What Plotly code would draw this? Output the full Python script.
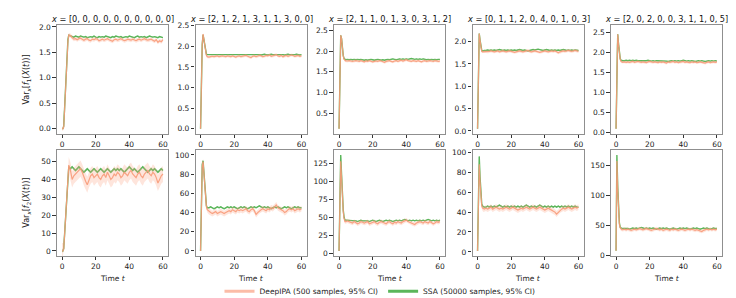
import plotly.graph_objects as go

# ---------------- data ----------------
T = [0, 0.5, 1, 1.5, 2, 2.5, 3, 3.5, 4] + list(range(5, 61))

TITLES = [
    "[0, 0, 0, 0, 0, 0, 0, 0, 0, 0]",
    "[2, 1, 2, 1, 3, 1, 1, 3, 0, 0]",
    "[2, 1, 1, 0, 1, 3, 0, 3, 1, 2]",
    "[0, 1, 1, 2, 0, 4, 0, 1, 0, 3]",
    "[2, 0, 2, 0, 0, 3, 1, 1, 0, 5]",
]

# f1 panels (top row)
DEEP_1 = [0.00, 0.00, 0.03, 0.40, 0.80, 1.15, 1.48, 1.72, 1.84,
          1.83, 1.79, 1.76, 1.77, 1.75, 1.77, 1.78, 1.76, 1.74, 1.76,
          1.77, 1.74, 1.73, 1.76, 1.75, 1.77, 1.76, 1.73, 1.75, 1.76,
          1.74, 1.75, 1.77, 1.75, 1.73, 1.72, 1.75, 1.76, 1.74, 1.75,
          1.77, 1.75, 1.73, 1.74, 1.76, 1.75, 1.74, 1.76, 1.75, 1.73,
          1.75, 1.76, 1.74, 1.76, 1.77, 1.75, 1.74, 1.75, 1.76, 1.74,
          1.72, 1.75, 1.70, 1.73, 1.71, 1.75]
SSA_1 = [0.00, 0.00, 0.05, 0.45, 0.85, 1.20, 1.52, 1.75, 1.84,
         1.83, 1.81, 1.80, 1.82, 1.81, 1.80, 1.82, 1.81, 1.80, 1.81,
         1.79, 1.80, 1.81, 1.80, 1.82, 1.80, 1.79, 1.81, 1.80, 1.81,
         1.80, 1.82, 1.81, 1.80, 1.79, 1.81, 1.80, 1.82, 1.81, 1.80,
         1.81, 1.79, 1.80, 1.81, 1.80, 1.82, 1.81, 1.80, 1.79, 1.81,
         1.82, 1.80, 1.81, 1.80, 1.81, 1.79, 1.80, 1.82, 1.81, 1.80,
         1.81, 1.80, 1.79, 1.81, 1.80, 1.79]

DEEP_2 = [0.00, 1.10, 2.05, 2.30, 2.18, 2.00, 1.86, 1.78, 1.75,
          1.74, 1.75, 1.76, 1.75, 1.76, 1.77, 1.75, 1.76, 1.77, 1.76,
          1.75, 1.77, 1.76, 1.75, 1.77, 1.76, 1.74, 1.76, 1.77, 1.75,
          1.76, 1.77, 1.78, 1.76, 1.75, 1.73, 1.76, 1.77, 1.75, 1.76,
          1.78, 1.77, 1.75, 1.76, 1.78, 1.77, 1.79, 1.76, 1.77, 1.78,
          1.80, 1.77, 1.76, 1.78, 1.75, 1.77, 1.78, 1.76, 1.77, 1.79,
          1.78, 1.76, 1.77, 1.78, 1.76, 1.77]
SSA_2 = [0.00, 1.15, 2.05, 2.28, 2.16, 1.98, 1.87, 1.81, 1.80,
         1.80, 1.81, 1.80, 1.81, 1.80, 1.81, 1.80, 1.81, 1.81, 1.80,
         1.81, 1.80, 1.81, 1.80, 1.81, 1.80, 1.81, 1.81, 1.80, 1.81,
         1.80, 1.81, 1.80, 1.80, 1.81, 1.80, 1.81, 1.80, 1.81, 1.80,
         1.80, 1.79, 1.80, 1.81, 1.80, 1.79, 1.80, 1.81, 1.80, 1.80,
         1.81, 1.80, 1.80, 1.81, 1.80, 1.79, 1.80, 1.81, 1.80, 1.80,
         1.79, 1.80, 1.81, 1.80, 1.79, 1.80]

DEEP_3 = [0.12, 1.60, 2.38, 2.30, 2.05, 1.88, 1.80, 1.77, 1.76,
          1.76, 1.77, 1.76, 1.75, 1.76, 1.77, 1.76, 1.75, 1.77, 1.76,
          1.74, 1.76, 1.75, 1.77, 1.76, 1.74, 1.75, 1.76, 1.75, 1.77,
          1.76, 1.75, 1.73, 1.75, 1.76, 1.77, 1.75, 1.74, 1.76, 1.77,
          1.75, 1.76, 1.78, 1.76, 1.77, 1.79, 1.77, 1.76, 1.75, 1.77,
          1.76, 1.75, 1.77, 1.76, 1.74, 1.76, 1.77, 1.75, 1.76, 1.77,
          1.76, 1.75, 1.77, 1.76, 1.75, 1.76]
SSA_3 = [0.12, 1.62, 2.38, 2.30, 2.05, 1.89, 1.82, 1.80, 1.79,
         1.80, 1.79, 1.80, 1.79, 1.80, 1.79, 1.80, 1.79, 1.80, 1.79,
         1.78, 1.79, 1.78, 1.79, 1.80, 1.79, 1.78, 1.79, 1.80, 1.79,
         1.78, 1.79, 1.78, 1.79, 1.80, 1.79, 1.80, 1.81, 1.80, 1.79,
         1.80, 1.81, 1.80, 1.81, 1.80, 1.81, 1.80, 1.81, 1.82, 1.81,
         1.80, 1.81, 1.80, 1.81, 1.80, 1.81, 1.80, 1.79, 1.80, 1.79,
         1.80, 1.79, 1.80, 1.79, 1.80, 1.80]

DEEP_4 = [0.05, 1.70, 2.18, 2.02, 1.85, 1.78, 1.77, 1.77, 1.78,
          1.78, 1.77, 1.78, 1.79, 1.78, 1.77, 1.78, 1.79, 1.77, 1.78,
          1.79, 1.78, 1.77, 1.78, 1.79, 1.78, 1.77, 1.76, 1.77, 1.78,
          1.79, 1.78, 1.77, 1.78, 1.79, 1.80, 1.78, 1.77, 1.78, 1.79,
          1.78, 1.77, 1.76, 1.77, 1.78, 1.79, 1.78, 1.77, 1.78, 1.79,
          1.78, 1.79, 1.77, 1.75, 1.77, 1.78, 1.79, 1.78, 1.79, 1.80,
          1.79, 1.78, 1.79, 1.80, 1.79, 1.78]
SSA_4 = [0.05, 1.72, 2.18, 2.03, 1.86, 1.80, 1.79, 1.80, 1.80,
         1.80, 1.81, 1.80, 1.81, 1.80, 1.81, 1.80, 1.81, 1.82, 1.81,
         1.80, 1.81, 1.80, 1.81, 1.80, 1.81, 1.80, 1.81, 1.80, 1.81,
         1.82, 1.81, 1.80, 1.81, 1.80, 1.79, 1.80, 1.81, 1.82, 1.81,
         1.82, 1.83, 1.82, 1.81, 1.80, 1.81, 1.82, 1.81, 1.80, 1.81,
         1.80, 1.81, 1.80, 1.81, 1.80, 1.81, 1.82, 1.81, 1.80, 1.81,
         1.80, 1.81, 1.80, 1.81, 1.80, 1.80]

DEEP_5 = [0.10, 2.20, 2.46, 2.20, 1.95, 1.83, 1.78, 1.77, 1.76,
          1.77, 1.76, 1.77, 1.76, 1.77, 1.78, 1.76, 1.77, 1.78, 1.77,
          1.76, 1.77, 1.76, 1.75, 1.77, 1.78, 1.77, 1.76, 1.77, 1.76,
          1.75, 1.77, 1.76, 1.77, 1.75, 1.74, 1.77, 1.76, 1.77, 1.78,
          1.76, 1.77, 1.75, 1.76, 1.77, 1.78, 1.76, 1.77, 1.76, 1.75,
          1.77, 1.76, 1.77, 1.75, 1.76, 1.77, 1.76, 1.75, 1.74, 1.76,
          1.77, 1.75, 1.76, 1.77, 1.76, 1.77]
SSA_5 = [0.10, 2.22, 2.46, 2.21, 1.97, 1.85, 1.81, 1.80, 1.80,
         1.80, 1.81, 1.80, 1.81, 1.80, 1.81, 1.80, 1.81, 1.80, 1.80,
         1.79, 1.80, 1.79, 1.80, 1.81, 1.80, 1.79, 1.80, 1.79, 1.80,
         1.80, 1.79, 1.80, 1.79, 1.80, 1.79, 1.78, 1.79, 1.80, 1.79,
         1.80, 1.79, 1.80, 1.79, 1.80, 1.81, 1.80, 1.79, 1.80, 1.79,
         1.80, 1.79, 1.78, 1.79, 1.80, 1.79, 1.80, 1.79, 1.78, 1.79,
         1.80, 1.79, 1.80, 1.79, 1.80, 1.79]

# f2 panels (bottom row)
DEEP_6 = [0, 0, 1, 9, 17, 25, 33, 41, 48,
          45, 40, 42, 43, 44, 45, 46, 44, 41, 39,
          37, 40, 42, 43, 41, 42, 43, 41, 40, 42,
          43, 41, 44, 42, 40, 41, 43, 42, 44, 43,
          41, 42, 44, 43, 42, 44, 45, 43, 42, 41,
          43, 44, 42, 41, 43, 44, 45, 43, 42, 44,
          43, 41, 38, 40, 42, 43]
SSA_6 = [0, 0, 1.5, 10, 18, 26, 34, 42, 47,
         46, 47, 46, 45, 46, 47, 46, 45, 44, 45,
         46, 45, 44, 45, 46, 45, 44, 45, 46, 45,
         44, 45, 46, 45, 44, 45, 46, 45, 46, 45,
         46, 45, 44, 45, 46, 47, 46, 45, 46, 45,
         44, 45, 46, 47, 46, 45, 44, 45, 46, 45,
         46, 45, 44, 45, 46, 45]

DEEP_7 = [0, 55, 88, 93, 80, 65, 52, 46, 43,
          41, 40, 39, 40, 41, 39, 40, 41, 40, 39,
          40, 41, 42, 41, 43, 42, 41, 43, 42, 43,
          42, 43, 44, 42, 41, 43, 44, 42, 38, 40,
          42, 43, 44, 43, 42, 44, 43, 45, 44, 46,
          48, 45, 44, 43, 42, 40, 41, 43, 44, 43,
          44, 42, 43, 44, 43, 44]
SSA_7 = [0, 58, 90, 94, 81, 66, 53, 47, 45,
         45, 46, 45, 44, 45, 46, 45, 46, 45, 44,
         45, 46, 45, 46, 45, 46, 45, 44, 45, 46,
         45, 46, 45, 44, 45, 46, 45, 46, 45, 46,
         47, 46, 45, 46, 45, 46, 45, 44, 45, 46,
         45, 46, 45, 44, 45, 46, 45, 46, 45, 44,
         45, 46, 45, 46, 45, 45]

DEEP_8 = [3, 95, 128, 105, 75, 58, 48, 44, 44,
          45, 44, 43, 42, 44, 43, 41, 42, 44, 43,
          42, 43, 44, 41, 42, 43, 44, 42, 41, 43,
          44, 43, 42, 41, 43, 44, 42, 41, 43, 42,
          44, 43, 42, 44, 45, 46, 44, 43, 42, 41,
          40, 42, 43, 44, 43, 42, 44, 43, 42, 44,
          43, 41, 42, 44, 43, 44]
SSA_8 = [3, 100, 137, 110, 78, 60, 50, 46, 46,
         46, 45, 46, 45, 46, 45, 44, 45, 46, 45,
         45, 46, 45, 44, 45, 46, 45, 44, 45, 46,
         45, 44, 45, 46, 45, 46, 45, 44, 45, 46,
         45, 46, 45, 46, 47, 46, 45, 46, 45, 46,
         45, 46, 45, 46, 45, 46, 45, 46, 47, 46,
         45, 46, 45, 46, 45, 46]

DEEP_9 = [1, 65, 88, 70, 52, 46, 44, 43, 43,
          44, 43, 44, 45, 43, 44, 45, 44, 43, 44,
          43, 44, 45, 44, 43, 44, 45, 44, 43, 42,
          43, 44, 43, 44, 45, 44, 43, 44, 45, 44,
          43, 44, 45, 44, 43, 42, 43, 44, 43, 42,
          41, 40, 38, 40, 42, 43, 44, 43, 44, 45,
          44, 43, 44, 45, 44, 45]
SSA_9 = [1, 70, 96, 75, 55, 48, 46, 45, 45,
         45, 46, 45, 46, 45, 46, 45, 46, 47, 46,
         45, 46, 45, 46, 45, 46, 45, 46, 45, 46,
         45, 46, 45, 46, 47, 46, 45, 46, 45, 46,
         45, 46, 47, 46, 45, 46, 45, 46, 45, 46,
         45, 46, 45, 46, 45, 46, 45, 46, 45, 46,
         45, 46, 45, 46, 45, 45]

DEEP_10 = [8, 158, 110, 70, 52, 46, 44, 43, 43,
           44, 43, 44, 43, 42, 43, 44, 43, 44, 45,
           44, 43, 44, 45, 44, 43, 42, 43, 44, 45,
           44, 43, 44, 42, 43, 44, 43, 42, 44, 43,
           44, 43, 42, 43, 44, 43, 42, 43, 44, 43,
           44, 43, 42, 43, 42, 41, 40, 42, 43, 44,
           43, 44, 43, 44, 43, 44]
SSA_10 = [8, 168, 115, 72, 54, 47, 45, 45, 45,
          45, 46, 45, 44, 45, 46, 45, 46, 45, 46,
          47, 46, 45, 46, 45, 46, 45, 46, 45, 44,
          45, 46, 45, 46, 45, 46, 45, 44, 45, 46,
          45, 44, 45, 46, 45, 46, 45, 46, 45, 44,
          45, 46, 45, 46, 45, 44, 45, 46, 45, 46,
          45, 44, 45, 46, 45, 45]

DEEP = [DEEP_1, DEEP_2, DEEP_3, DEEP_4, DEEP_5, DEEP_6, DEEP_7, DEEP_8, DEEP_9, DEEP_10]
SSA = [SSA_1, SSA_2, SSA_3, SSA_4, SSA_5, SSA_6, SSA_7, SSA_8, SSA_9, SSA_10]
# 95% CI half widths per panel
DEEP_CI = [0.04, 0.035, 0.035, 0.035, 0.035, 4.5, 3.0, 3.0, 3.0, 3.0]
SSA_CI = [0.01, 0.01, 0.01, 0.01, 0.01, 0.7, 0.7, 0.7, 0.7, 0.7]

Y_RANGES = [[-0.097, 2.03], [-0.12, 2.51], [0.005, 2.62], [-0.06, 2.36], [-0.02, 2.68],
            [-2.7, 56.7], [-5, 105.7], [-3.7, 144.5], [-3.9, 102.9], [-0.5, 177.2]]
Y_DTICK = [0.5, 0.5, 0.5, 0.5, 0.5, 10, 20, 25, 20, 50]

# ---------------- layout ----------------
W, H = 736, 298
LEFTS = [49, 187.5, 326, 464.5, 603]
PW = 111
ROWS = [(14, 126.7), (143.3, 254)]

DEEP_LINE = "#f99b79"
DEEP_BAND = "rgba(252,160,130,0.28)"
SSA_LINE = "#5ab65a"
SSA_BAND = "rgba(90,182,90,0.45)"
FONT = "DejaVu Sans"

fig = go.Figure()
annotations = []

for i in range(10):
    r, c = divmod(i, 5)
    n = "" if i == 0 else str(i + 1)
    xa, ya = "x" + n, "y" + n
    d, s = DEEP[i], SSA[i]
    assert len(d) == len(T) and len(s) == len(T), (i, len(d), len(s))
    dlo = [v - DEEP_CI[i] for v in d]
    dhi = [v + DEEP_CI[i] for v in d]
    slo = [v - SSA_CI[i] for v in s]
    shi = [v + SSA_CI[i] for v in s]
    # SSA band + line
    fig.add_trace(go.Scatter(x=T + T[::-1], y=shi + slo[::-1], fill="toself", fillcolor=SSA_BAND,
                             line=dict(width=0), hoverinfo="skip", showlegend=False, xaxis=xa, yaxis=ya))
    fig.add_trace(go.Scatter(x=T, y=s, mode="lines", line=dict(color=SSA_LINE, width=1.4),
                             showlegend=False, xaxis=xa, yaxis=ya))
    # DeepIPA band + line
    fig.add_trace(go.Scatter(x=T + T[::-1], y=dhi + dlo[::-1], fill="toself", fillcolor=DEEP_BAND,
                             line=dict(width=0), hoverinfo="skip", showlegend=False, xaxis=xa, yaxis=ya))
    fig.add_trace(go.Scatter(x=T, y=d, mode="lines", line=dict(color=DEEP_LINE, width=1.2),
                             opacity=0.9, showlegend=False, xaxis=xa, yaxis=ya))

    x0 = LEFTS[c] / W
    x1 = (LEFTS[c] + PW) / W
    top, bot = ROWS[r]
    y0 = 1 - bot / H
    y1 = 1 - top / H
    axis_common = dict(showline=True, mirror=True, linecolor="#8f8f8f", linewidth=1.3,
                       ticks="outside", ticklen=3.5, tickwidth=1, tickcolor="#333",
                       tickfont=dict(family=FONT, size=7.5, color="#222"),
                       showgrid=False, zeroline=False)
    fig.layout["xaxis" + n] = dict(domain=[x0, x1], anchor=ya, range=[-3, 63],
                                   tickvals=[0, 20, 40, 60], **axis_common)
    fig.layout["yaxis" + n] = dict(domain=[y0, y1], anchor=xa, range=Y_RANGES[i],
                                   dtick=Y_DTICK[i], tick0=0,
                                   tickformat=".1f" if r == 0 else "d", **axis_common)
    if r == 0:
        annotations.append(dict(text="<i>x</i> = " + TITLES[c], x=(x0 + x1) / 2, y=1 - 7 / H,
                                xref="paper", yref="paper", showarrow=False,
                                xanchor="center", yanchor="middle",
                                font=dict(family=FONT, size=8.2, color="#111")))
    else:
        annotations.append(dict(text="Time <i>t</i>", x=(x0 + x1) / 2, y=1 - 278 / H,
                                xref="paper", yref="paper", showarrow=False,
                                xanchor="center", yanchor="middle",
                                font=dict(family=FONT, size=7.5, color="#222")))

for k, (top, bot) in enumerate(ROWS):
    annotations.append(dict(
        text="Var<sub><i>x</i></sub>[<i>f</i><sub>%d</sub>(<i>X</i>(<i>t</i>))]" % (k + 1),
        x=19 / W, y=1 - (top + bot) / 2 / H, xref="paper", yref="paper", showarrow=False,
        xanchor="center", yanchor="middle",
        textangle=-90, font=dict(family=FONT, size=8, color="#222")))

# legend entries
fig.add_trace(go.Scatter(x=[None], y=[None], mode="lines", name="DeepIPA (500 samples, 95% CI)",
                         line=dict(color="rgba(250,160,130,0.7)", width=3), legendrank=1))
fig.add_trace(go.Scatter(x=[None], y=[None], mode="lines", name="SSA (50000 samples, 95% CI)",
                         line=dict(color=SSA_LINE, width=3), legendrank=2))

fig.update_layout(
    width=W, height=H, autosize=False,
    margin=dict(l=0, r=0, t=0, b=0),
    paper_bgcolor="white", plot_bgcolor="white",
    annotations=annotations,
    showlegend=True,
    legend=dict(orientation="h", x=372 / W, xanchor="center", y=1 - 291 / H, yanchor="middle",
                font=dict(family=FONT, size=7.5, color="#222"), bgcolor="rgba(0,0,0,0)",
                itemwidth=30, tracegroupgap=0),
)

fig.write_html("out.html")
